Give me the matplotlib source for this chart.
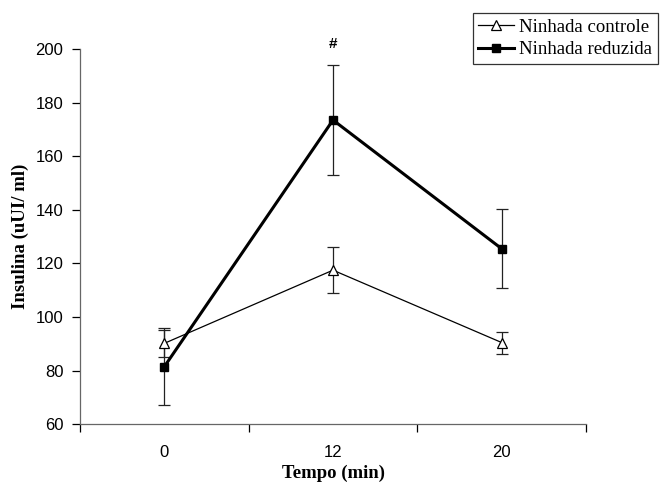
import numpy as np
import matplotlib.pyplot as plt

tempos = ["0", "12", "20"]

controle_media = [90.2, 117.5, 90.5]
controle_erro = [5.0, 8.6, 4.1]

reduzida_media = [81.5, 173.5, 125.5]
reduzida_erro = [14.3, 20.4, 14.8]

serif = ["Liberation Serif", "DejaVu Serif"]
sans = ["Liberation Sans", "DejaVu Sans"]

fig = plt.figure(figsize=(6.6, 4.86), dpi=100)
ax = fig.add_axes([80 / 660, 1 - 424.3 / 486, 506 / 660, (424.3 - 49) / 486])

x = np.arange(len(tempos)) + 0.5

# barras de erro primeiro, linhas por cima
ax.errorbar(x, controle_media, yerr=controle_erro, fmt="none", ecolor="#222222",
            elinewidth=0.9, capsize=4.5, capthick=0.9, zorder=2)
ax.errorbar(x, reduzida_media, yerr=reduzida_erro, fmt="none", ecolor="#222222",
            elinewidth=0.9, capsize=4.5, capthick=0.9, zorder=2)

ax.plot(x, controle_media, color="black", lw=0.9, marker="^", markersize=6.5,
        markerfacecolor="white", markeredgecolor="black", markeredgewidth=0.9,
        label="Ninhada controle", zorder=3)
ax.plot(x, reduzida_media, color="black", lw=2.2, marker="s", markersize=5.5,
        markerfacecolor="black", markeredgecolor="black",
        label="Ninhada reduzida", zorder=4)

# marca de significancia no tempo 12
ax.text(x[1], 202, "#", ha="center", va="center", fontsize=11, fontweight="bold",
        family=sans)

ax.set_xlim(0, 3)
ax.set_ylim(60, 200)
ax.set_yticks(np.arange(60, 201, 20))
ax.set_xticks([0, 1, 2, 3])
ax.set_xticklabels([])
ax.set_xticks(x, minor=True)
ax.set_xticklabels(tempos, minor=True)

ax.tick_params(axis="x", which="major", direction="out", length=6, width=0.9)
ax.tick_params(axis="x", which="minor", length=0, pad=15)
ax.tick_params(axis="y", direction="out", length=6, width=0.9, pad=6)
for lbl in ax.get_yticklabels() + ax.get_xticklabels(minor=True):
    lbl.set_fontfamily(sans)
    lbl.set_fontsize(12)

for s in ["top", "right"]:
    ax.spines[s].set_visible(False)
for s in ["left", "bottom"]:
    ax.spines[s].set_color("#666666")
    ax.spines[s].set_linewidth(0.9)

ax.set_ylabel("Insulina (uUI/ ml)", fontsize=13.5, fontweight="bold", family=serif, labelpad=5)
ax.set_xlabel("Tempo (min)", fontsize=13.5, fontweight="bold", family=serif, labelpad=3)

leg = ax.legend(loc="upper right", bbox_to_anchor=(658 / 660, 1 - 13 / 486),
                bbox_transform=fig.transFigure, borderaxespad=0, frameon=True,
                fancybox=False, edgecolor="black", handlelength=1.9, handletextpad=0.3,
                borderpad=0.3, labelspacing=0.3, prop={"family": serif, "size": 13.5})
leg.get_frame().set_linewidth(0.9)

fig.savefig("out.png", dpi=100)
